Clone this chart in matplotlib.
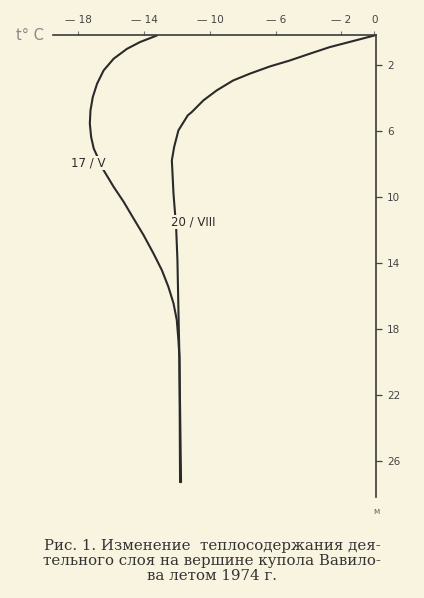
import matplotlib
matplotlib.use("Agg")
import matplotlib.pyplot as plt

# Data (temperature °C vs depth m)
depth_may = [0.18, 0.58, 0.99, 1.59, 2.30, 3.11, 3.92, 4.73, 5.53, 6.34, 7.05, 8.36, 9.37, 10.28,
             11.29, 12.30, 13.41, 14.42, 15.44, 16.44, 17.45, 18.67, 19.68, 27.3]
temp_may = [-13.23, -14.26, -15.05, -15.86, -16.47, -16.87, -17.13, -17.27, -17.31, -17.23, -17.07,
            -16.47, -15.86, -15.25, -14.65, -14.04, -13.44, -12.93, -12.53, -12.22, -12.02, -11.92,
            -11.86, -11.82]

depth_aug = [0.18, 0.89, 1.29, 1.70, 2.06, 2.50, 2.91, 3.52, 4.12, 4.83, 5.03, 5.94, 6.95, 7.76,
             9.78, 11.8, 13.82, 16.85, 19.68, 27.3]
temp_aug = [0.0, -2.73, -3.94, -5.15, -6.36, -7.58, -8.59, -9.6, -10.4, -11.11, -11.35, -11.92,
            -12.18, -12.32, -12.22, -12.06, -11.98, -11.92, -11.86, -11.76]

x_ticks = [-18, -14, -10, -6, -2, 0]
x_ticklabels = ["— 18", "— 14", "— 10", "— 6", "— 2", "0"]
y_ticks = [2, 6, 10, 14, 18, 22, 26]
y_ticklabels = ["2", "6", "10", "14", "18", "22", "26"]

label_may = "17 / V"
label_aug = "20 / VIII"
caption = ("Рис. 1. Изменение  теплосодержания дея-\n"
           "тельного слоя на вершине купола Вавило-\n"
           "ва летом 1974 г.")

bg = "#f8f4df"
ink = "#2a2a2a"

fig = plt.figure(figsize=(4.24, 5.98), dpi=100, facecolor=bg)
ax = fig.add_axes([53/424, 1-497/598, (376-53)/424, (497-35)/598])
ax.set_facecolor(bg)

ax.plot(temp_may, depth_may, color=ink, lw=1.5, solid_capstyle="round", solid_joinstyle="round")
ax.plot(temp_aug, depth_aug, color=ink, lw=1.5, solid_capstyle="round", solid_joinstyle="round")

ax.set_xlim(-19.55, 0.1)
ax.set_ylim(28.2, 0.15)

for s in ["left", "bottom"]:
    ax.spines[s].set_visible(False)
for s in ["top", "right"]:
    ax.spines[s].set_color("#3a3a3a")
    ax.spines[s].set_linewidth(1.2)

ax.xaxis.tick_top()
ax.yaxis.tick_right()
ax.set_xticks(x_ticks)
ax.set_xticklabels(x_ticklabels, fontsize=7.5, color="#444444")
ax.set_yticks(y_ticks)
ax.set_yticklabels(y_ticklabels, fontsize=7.5, color="#444444")
ax.tick_params(axis="x", direction="out", length=3, width=0.8, color="#777777", pad=4)
ax.tick_params(axis="y", direction="out", length=4, width=0.9, color="#444444", pad=4)

ax.text(-17.4, 7.9, label_may, fontsize=8.5, color=ink, ha="center", va="center",
        bbox=dict(facecolor=bg, edgecolor="none", pad=0.3))
ax.text(-11.0, 11.5, label_aug, fontsize=8.5, color=ink, ha="center", va="center",
        bbox=dict(facecolor=bg, edgecolor="none", pad=0.3))

fig.text(30/424, 1-35/598, "t° C", fontsize=10.5, color="#888888", ha="center", va="center")
fig.text(376/424, 1-512/598, "м", fontsize=6, color="#666666", ha="center", va="center")

fig.text(0.5, 1-561/598, caption, fontsize=10.8, family="DejaVu Serif", color="#333333",
         ha="center", va="center", linespacing=1.1)

fig.savefig("out.png", dpi=100, facecolor=bg)
